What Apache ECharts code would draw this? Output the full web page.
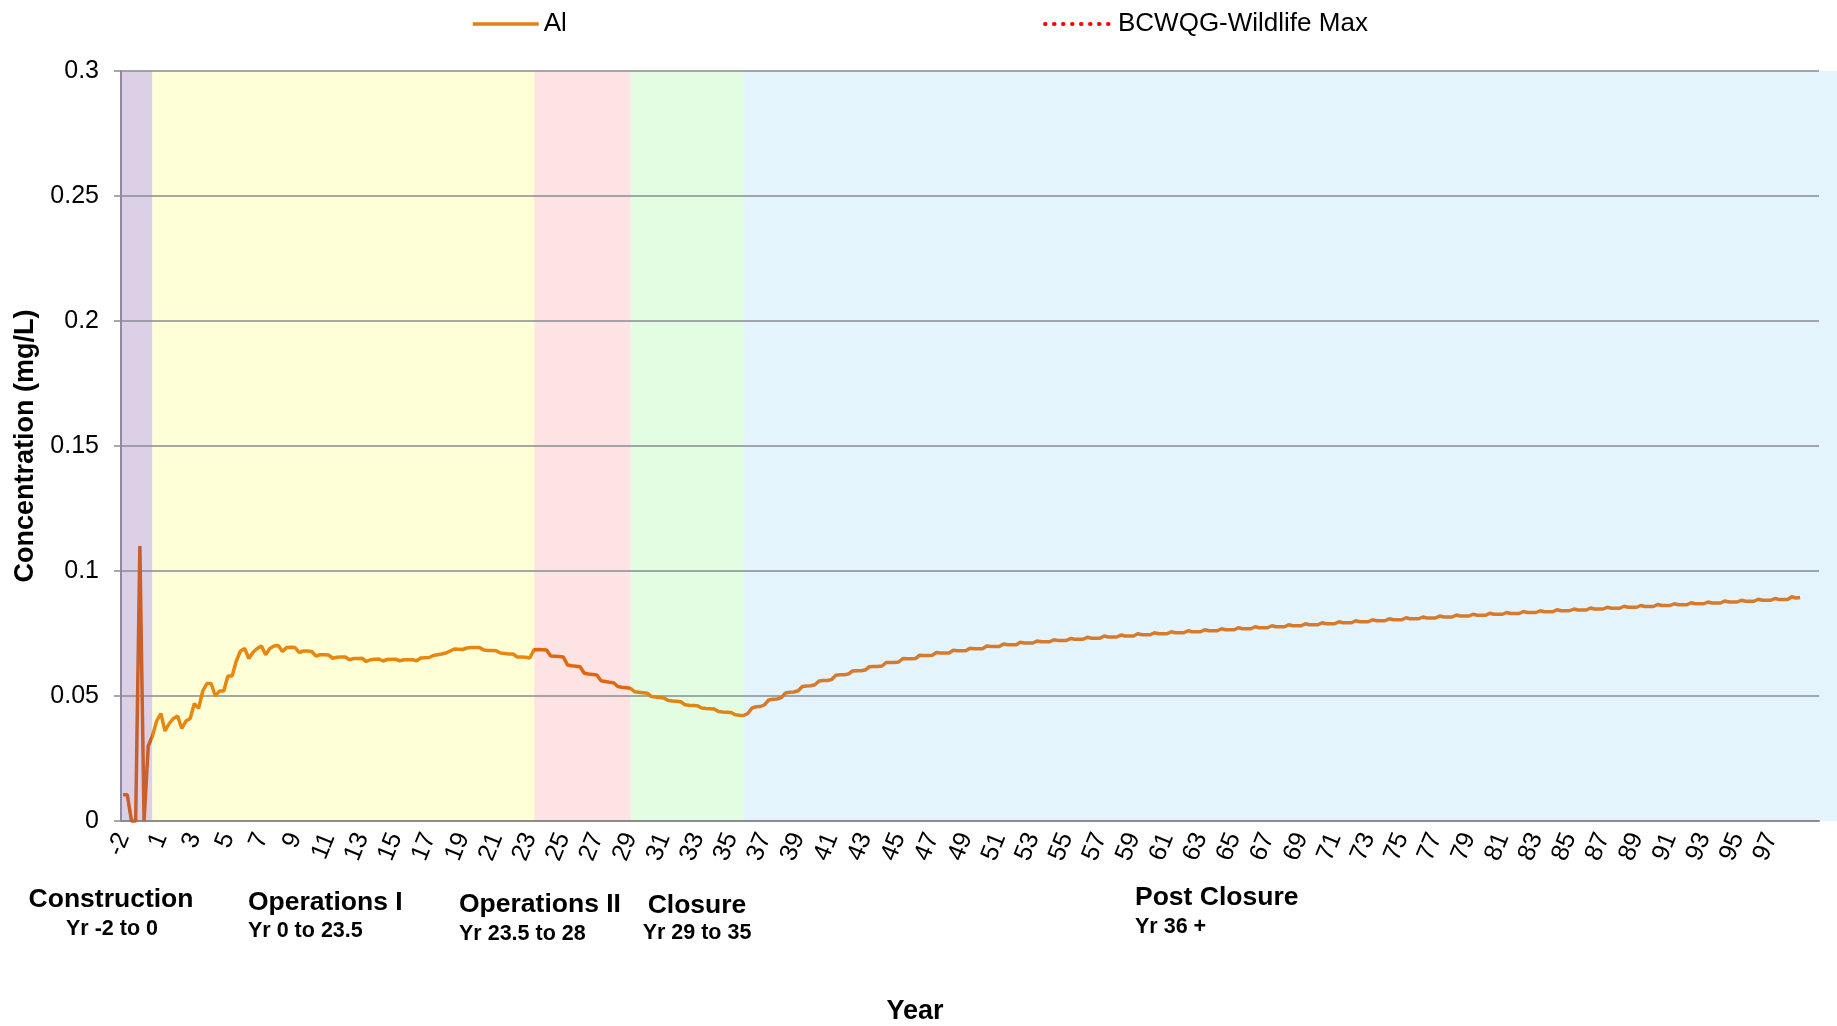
<!DOCTYPE html>
<html>
<head>
<meta charset="utf-8">
<title>Al concentration</title>
<script src="https://cdn.jsdelivr.net/npm/echarts@6/dist/echarts.min.js"></script>
<style>
    html, body { margin: 0; padding: 0; background: #fff; }
    #chart { width: 1837px; height: 1026px; }
</style>
</head>
<body>
<div id="chart"></div>
<script>
// construction rows are sparse, after year 0 the model is quarterly
var constructionYears = ['-2', '-1.6', '-1.2', '-0.8', '-0.4', '0'];
var lastQuarter = 399; // 99.75
var years = constructionYears.slice();
for (var q = 1; q <= lastQuarter; q++) {
    years.push(String(q / 4));
}
// band axis reaches a little past the plot end
var bandYears = years.concat(['100', '100.25', '100.5', '100.75']);

// Al (mg/L)
var constructionAl = [0.0105, 0.0105, 0, 0, 0.110, 0];
var opsIAl = [
    0.030, 0.034, 0.040, 0.043,
    0.036, 0.039, 0.041, 0.042,
    0.037, 0.040, 0.041, 0.047,
    0.045, 0.052, 0.055, 0.055,
    0.050, 0.052, 0.052, 0.058,
    0.058, 0.064, 0.068, 0.069,
    0.065, 0.0675, 0.069, 0.070,
    0.0665, 0.069, 0.070, 0.0702,
    0.0678, 0.0694, 0.0695, 0.0694,
    0.0674, 0.068, 0.068, 0.0678,
    0.066, 0.0665, 0.0665, 0.0664,
    0.0651, 0.0655, 0.0656, 0.0656,
    0.0645, 0.065, 0.065, 0.0651,
    0.0638, 0.0645, 0.0647, 0.0648,
    0.064, 0.0646, 0.0647, 0.0647,
    0.0641, 0.0645, 0.0645, 0.0645,
    0.0641, 0.0652, 0.0653, 0.0654,
    0.0662, 0.0665, 0.0668, 0.0672,
    0.068, 0.0688, 0.0687, 0.0686,
    0.0692, 0.0694, 0.0694, 0.0694,
    0.0684, 0.0682, 0.0682, 0.0681,
    0.0672, 0.067, 0.0668, 0.0668,
    0.0656, 0.0656, 0.0655, 0.0652
];
var opsIIAl = [
    0.0685, 0.0686, 0.0685, 0.0684,
    0.066, 0.0659, 0.0658, 0.0656,
    0.0624, 0.0621, 0.0619, 0.0617,
    0.0591, 0.0588, 0.0586, 0.0584,
    0.0561, 0.0558, 0.0555, 0.0553,
    0.0538, 0.0535, 0.0533
];
var closureAl = [
    0.0531,
    0.0517, 0.0515, 0.0513, 0.0511,
    0.0498, 0.0496, 0.0494, 0.0492,
    0.0482, 0.048, 0.0479, 0.0477,
    0.0465, 0.0463, 0.0462, 0.0461,
    0.0452, 0.045, 0.0449, 0.0448,
    0.0438, 0.0436, 0.0435, 0.0434,
    0.0425, 0.0423, 0.0422
];
var postClosureAl = [
    0.0430, 0.0452, 0.0457, 0.0458,
    0.0465, 0.0484, 0.0487, 0.0488,
    0.0494, 0.0512, 0.0515, 0.0516,
    0.0521, 0.0538, 0.0540, 0.0541,
    0.0545, 0.0560, 0.0562, 0.0562,
    0.0566, 0.0583, 0.0585, 0.0585,
    0.0588, 0.0600, 0.0601, 0.0601,
    0.0604, 0.0617, 0.0618, 0.0618,
    0.0620, 0.0634, 0.0634, 0.0634,
    0.0636, 0.0650, 0.0649, 0.0649,
    0.0650, 0.0663, 0.0662, 0.0662,
    0.0663, 0.0674, 0.0672, 0.0672,
    0.0672, 0.0683, 0.0681, 0.0681,
    0.0681, 0.0691, 0.0689, 0.0689,
    0.0689, 0.0700, 0.0698, 0.0698,
    0.0698, 0.0708, 0.0705, 0.0705,
    0.0705, 0.0715, 0.0712, 0.0712,
    0.0712, 0.0720, 0.0717, 0.0717,
    0.0717, 0.0725, 0.0722, 0.0722,
    0.0722, 0.0730, 0.0727, 0.0727,
    0.0727, 0.0735, 0.0731, 0.0731,
    0.0731, 0.0740, 0.0736, 0.0736,
    0.0736, 0.0744, 0.0740, 0.0740,
    0.0740, 0.0749, 0.0745, 0.0745,
    0.0745, 0.0753, 0.0749, 0.0749,
    0.0749, 0.0757, 0.0753, 0.0753,
    0.0753, 0.0761, 0.0757, 0.0757,
    0.0757, 0.0765, 0.0761, 0.0761,
    0.0761, 0.0769, 0.0765, 0.0765,
    0.0765, 0.0773, 0.0769, 0.0769,
    0.0769, 0.0777, 0.0773, 0.0773,
    0.0773, 0.0781, 0.0777, 0.0777,
    0.0777, 0.0785, 0.0781, 0.0781,
    0.0781, 0.0789, 0.0785, 0.0785,
    0.0785, 0.0793, 0.0789, 0.0789,
    0.0789, 0.0797, 0.0793, 0.0793,
    0.0793, 0.0801, 0.0797, 0.0797,
    0.0797, 0.0805, 0.0801, 0.0801,
    0.0801, 0.0809, 0.0805, 0.0805,
    0.0805, 0.0813, 0.0809, 0.0809,
    0.0809, 0.0816, 0.0812, 0.0812,
    0.0812, 0.0820, 0.0816, 0.0816,
    0.0816, 0.0824, 0.0820, 0.0820,
    0.0820, 0.0827, 0.0823, 0.0823,
    0.0823, 0.0831, 0.0827, 0.0827,
    0.0827, 0.0834, 0.0830, 0.0830,
    0.0830, 0.0838, 0.0834, 0.0834,
    0.0834, 0.0841, 0.0837, 0.0837,
    0.0837, 0.0845, 0.0841, 0.0841,
    0.0841, 0.0848, 0.0844, 0.0844,
    0.0844, 0.0852, 0.0848, 0.0848,
    0.0848, 0.0855, 0.0851, 0.0851,
    0.0851, 0.0859, 0.0855, 0.0855,
    0.0855, 0.0862, 0.0858, 0.0858,
    0.0858, 0.0866, 0.0862, 0.0862,
    0.0862, 0.0869, 0.0865, 0.0865,
    0.0865, 0.0873, 0.0869, 0.0869,
    0.0869, 0.0876, 0.0872, 0.0872,
    0.0872, 0.0880, 0.0876, 0.0876,
    0.0876, 0.0883, 0.0879, 0.0879,
    0.0879, 0.0887, 0.0883, 0.0883,
    0.0883, 0.0890, 0.0886, 0.0886,
    0.0886, 0.0897, 0.0892, 0.0894
];
// guideline sits above the 0.3 axis max, only its legend entry is visible
var wildlifeMax = [];

var alValues = constructionAl.concat(opsIAl, opsIIAl, closureAl, postClosureAl);

// phase limits as category names (null = plot edge)
var phaseNames = ['Construction', 'Operations I', 'Operations II', 'Closure', 'Post Closure'];
var phaseFrom = [null, '0.5', '23.25', '29', '35.75'];
var phaseTo = ['0.5', '23.25', '29', '35.75', null];
var phaseFill = ['#dcd0e7', '#ffffd7', '#fde3e3', '#e3fde3', '#e3f4fc'];
var phaseLine = ['#c95f2b', '#e8870f', '#e2660f', '#de8513', '#d87a2b'];

var FONT = '"Liberation Sans", Arial, sans-serif';

var chart = echarts.init(document.getElementById('chart'));

var bandData = phaseNames.map(function (n, i) {
    var a = { name: n, itemStyle: { color: phaseFill[i] } };
    var b = {};
    if (phaseFrom[i] !== null) a.xAxis = phaseFrom[i];
    if (phaseTo[i] !== null) b.xAxis = phaseTo[i];
    return [a, b];
});

function labelText(txt, x, y, size, align) {
    return {
        type: 'text', x: x, y: y, silent: true,
        style: {
            text: txt, fill: '#000', align: align, verticalAlign: 'middle',
            font: 'bold ' + size + 'px ' + FONT
        }
    };
}

var hideSymbol = { color: 'transparent', borderColor: 'transparent', borderWidth: 0, opacity: 0 };

var option = {
    animation: false,
    textStyle: { fontFamily: FONT },
    legend: [{
        data: ['Al'], left: 471, top: 11, padding: 0, itemWidth: 66, itemHeight: 16,
        itemStyle: hideSymbol,
        lineStyle: { width: 3.5, color: '#e47f16' },
        textStyle: { fontSize: 26, color: '#000' }
    }, {
        data: ['BCWQG-Wildlife Max'], left: 1043, top: 11, padding: 0, itemWidth: 68, itemHeight: 16,
        itemStyle: hideSymbol,
        lineStyle: { width: 4, color: '#ff0000', type: [0.5, 8.5], cap: 'round' },
        textStyle: { fontSize: 26, color: '#000' }
    }],
    grid: [
        { left: 121, right: 18, top: 71, bottom: 205 },
        { left: 121, right: 0, top: 71, bottom: 205 }
    ],
    xAxis: [{
        type: 'category', gridIndex: 0, data: years, boundaryGap: true,
        axisLine: { lineStyle: { color: '#8c8c8c', width: 2 } },
        axisTick: {
            length: 6, lineStyle: { color: '#8c8c8c', width: 1.5 },
            interval: function (i) { return i % 2 === 0; }
        },
        axisLabel: {
            rotate: 68, fontSize: 25, color: '#000', margin: 13,
            interval: function (i, v) {
                var n = Number(v);
                return v === '-2' || (n % 2 === 1 && n < 98);
            }
        },
        splitLine: { show: false }
    }, {
        type: 'category', gridIndex: 1, data: bandYears, boundaryGap: true, show: false
    }],
    yAxis: [{
        type: 'value', gridIndex: 0, min: 0, max: 0.3, interval: 0.05,
        name: 'Concentration (mg/L)', nameLocation: 'middle', nameGap: 82,
        nameTextStyle: { fontSize: 27, fontWeight: 'bold', color: '#000' },
        axisLine: { show: true, lineStyle: { color: '#8e88a0', width: 2 } },
        axisTick: { show: true, length: 7, lineStyle: { color: '#8c8c8c', width: 1.5 } },
        axisLabel: { fontSize: 25, color: '#000', margin: 22 },
        splitLine: { lineStyle: { color: '#878c90', width: 1.5 } }
    }, {
        type: 'value', gridIndex: 1, min: 0, max: 0.3, show: false
    }],
    visualMap: {
        show: false, type: 'piecewise', seriesIndex: 0, dimension: 0,
        pieces: [
            { lt: 6.8, color: phaseLine[0] },
            { gte: 6.8, lt: 98, color: phaseLine[1] },
            { gte: 98, lt: 121, color: phaseLine[2] },
            { gte: 121, lt: 148, color: phaseLine[3] },
            { gte: 148, color: phaseLine[4] }
        ]
    },
    series: [{
        name: 'Al', type: 'line', data: alValues,
        xAxisIndex: 0, yAxisIndex: 0, clip: false,
        showSymbol: false, symbol: 'none', color: '#e47f16',
        lineStyle: { width: 3.5 }, z: 3
    }, {
        name: 'BCWQG-Wildlife Max', type: 'line', data: wildlifeMax,
        xAxisIndex: 0, yAxisIndex: 0, symbol: 'none', color: '#ff0000',
        lineStyle: { type: 'dotted', width: 3, color: '#ff0000' }
    }, {
        name: 'phases', type: 'line', data: [], xAxisIndex: 1, yAxisIndex: 1,
        silent: true, z: -1,
        markArea: { silent: true, z: -1, label: { show: false }, data: bandData }
    }],
    graphic: [
        labelText('Construction', 111, 900, 26.5, 'center'),
        labelText('Yr -2 to 0', 112, 929, 21.5, 'center'),
        labelText('Operations I', 248, 903, 26.5, 'left'),
        labelText('Yr 0 to 23.5', 248, 931, 21.5, 'left'),
        labelText('Operations II', 459, 905, 26.5, 'left'),
        labelText('Yr 23.5 to 28', 459, 934, 21.5, 'left'),
        labelText('Closure', 697, 906, 26.5, 'center'),
        labelText('Yr 29 to 35', 697, 933, 21.5, 'center'),
        labelText('Post Closure', 1135, 898, 26.5, 'left'),
        labelText('Yr 36 +', 1135, 927, 21.5, 'left'),
        labelText('Year', 915, 1012, 27, 'center')
    ]
};
chart.setOption(option);
</script>
</body>
</html>
